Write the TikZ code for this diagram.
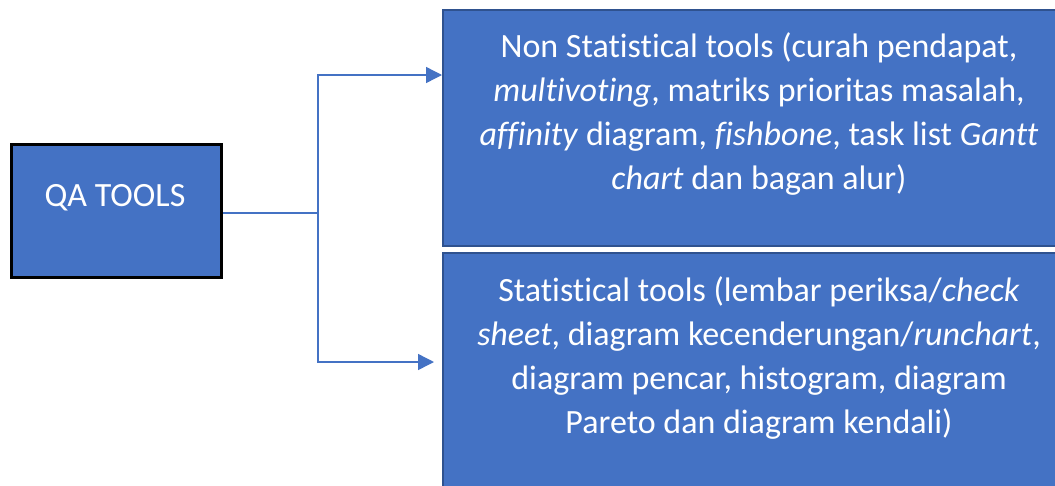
\documentclass[tikz,border=0pt]{standalone}
\usepackage{fontspec}
\setmainfont{Carlito}[Ligatures={NoCommon,NoContextual}]
\usetikzlibrary{arrows.meta}
\definecolor{boxblue}{HTML}{4472C4}
\definecolor{boxedge}{HTML}{2F528F}
\tikzset{
  bluebox/.style={draw=boxedge, line width=1.5pt, fill=boxblue, rectangle, inner sep=0pt},
  qabox/.style={draw=black, line width=3pt, fill=boxblue, rectangle, inner sep=0pt},
  boxtext/.style={text=white, inner sep=0pt, anchor=base, font=\fontsize{34}{44.3}\selectfont},
  conn/.style={draw=boxblue, line width=1.4pt},
  arr/.style={conn, -{Triangle[length=16pt,width=16pt]}},
}
\begin{document}
\begin{tikzpicture}[x=1pt,y=-1pt]
\useasboundingbox (0,0) rectangle (1055,485);
\fill[white] (0,0) rectangle (1055,485);
\begin{scope}
\clip (0,0) rectangle (1055,485);
\node[bluebox, minimum width=634pt, minimum height=236pt, anchor=north west] (top) at (442,9) {};
\node[bluebox, minimum width=634pt, minimum height=250pt, anchor=north west] (bot) at (442,252) {};
\end{scope}
\node[qabox, minimum width=210pt, minimum height=133pt, anchor=north west] (qa) at (10,143) {};
\node[boxtext] (qat) at (115,206) {QA TOOLS};
\node[boxtext] (tt) at (759,57) {\parbox[t]{620pt}{\centering
Non Statistical tools (curah pendapat,\\
\textit{multivoting}, matriks prioritas masalah,\\
\textit{affinity} diagram, \textit{fishbone}, task list \textit{Gantt}\\
\textit{chart} dan bagan alur)}};
\node[boxtext] (bt) at (759,301) {\parbox[t]{620pt}{\centering
Statistical tools (lembar periksa/\textit{check}\\
\textit{sheet}, diagram kecenderungan/\textit{runchart},\\
diagram pencar, histogram, diagram\\
Pareto dan diagram kendali)}};
\coordinate (j) at (318,213);
\coordinate (ta) at (442,75);
\coordinate (ba) at (434,362);
\draw[conn] (qa.east |- j) -- (j);
\draw[arr] (j) |- (top.west |- ta);
\draw[arr] (j) |- (ba);
\end{tikzpicture}
\end{document}
